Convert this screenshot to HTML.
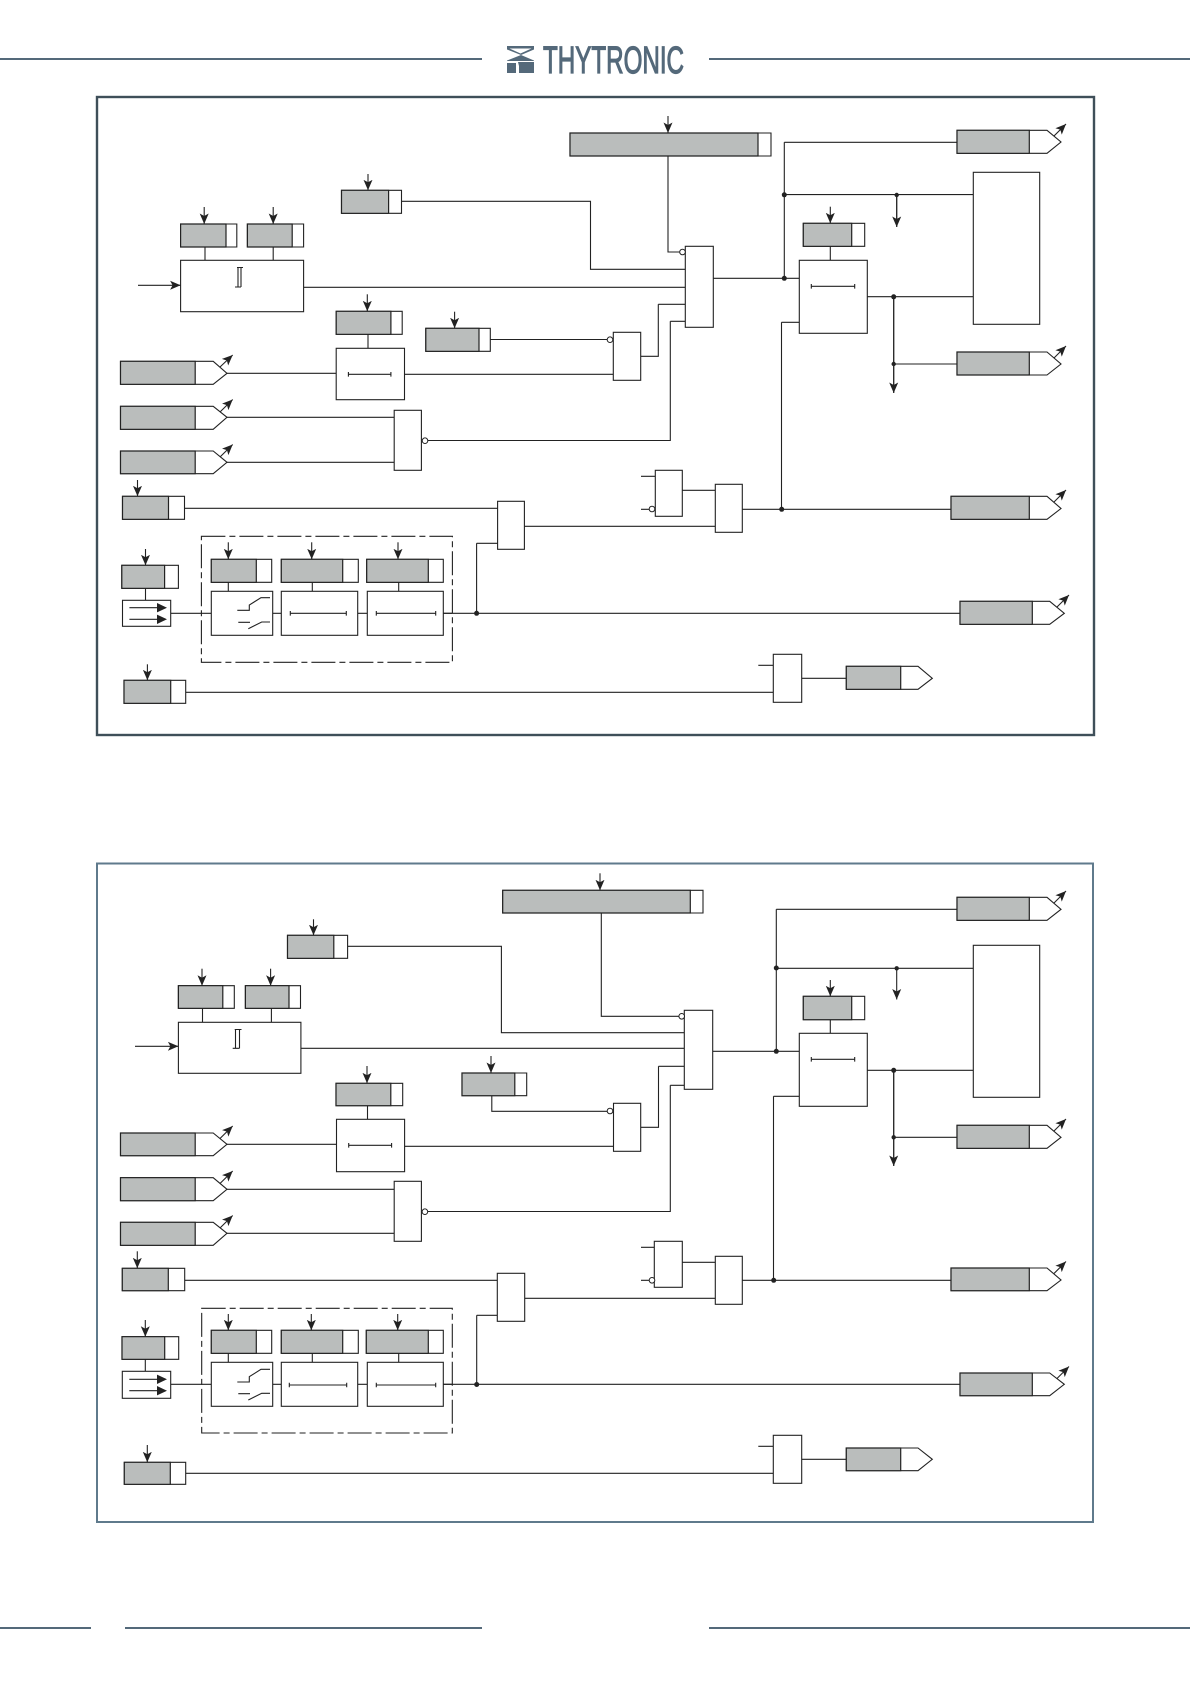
<!DOCTYPE html>
<html><head><meta charset="utf-8"><style>
html,body{margin:0;padding:0;background:#fff}
svg{display:block}
.l{fill:none;stroke:#222;stroke-width:1.1}
.s{fill:#fff;stroke:#222;stroke-width:1.1}
.g{fill:#babdbc;stroke:#222;stroke-width:1.2}
.d{fill:#222;stroke:none}
.c{fill:#fff;stroke:#222;stroke-width:1}
.a{fill:none;stroke:#222;stroke-width:1.1;marker-end:url(#m)}
.h{fill:#54697a;stroke:none}
</style></head><body>
<svg width="1190" height="1684" viewBox="0 0 1190 1684" xmlns="http://www.w3.org/2000/svg">
<defs><marker id="m" markerUnits="userSpaceOnUse" markerWidth="12" markerHeight="10" refX="10.5" refY="5" orient="auto"><path d="M0 0.5L10.5 5L0 9.5L2.5 5Z" fill="#222"/></marker></defs>
<rect width="1190" height="1684" fill="#fff"/>
<!-- header / footer -->
<rect class="h" x="0" y="58" width="482" height="2"/><rect class="h" x="709" y="58" width="481" height="2"/>
<path class="h" d="M507 46H534V49.5L521 55L534 60.5V61H507V60.5L521 55L507 49.5ZM507 63H516V73H507ZM518 62L534 62V73H519V66Z" style="fill-rule:evenodd"/>
<rect x="509" y="48.5" width="23" height="0" fill="none"/>
<path d="M509.5 48.5H531.5L520.5 53.5Z" fill="#fff"/>
<text x="543" y="73" font-family="Liberation Sans, sans-serif" font-size="38" fill="#54697a" stroke="#54697a" stroke-width="1.2" textLength="141" lengthAdjust="spacingAndGlyphs">THYTRONIC</text>
<rect class="h" x="0" y="1627" width="91" height="2"/><rect class="h" x="125" y="1627" width="357" height="2"/><rect class="h" x="709" y="1627" width="481" height="2"/>

<!-- DIAGRAM 1 -->
<rect x="97" y="97" width="997" height="638" fill="none" stroke="#3f4f59" stroke-width="2.4"/>
<!-- wires -->
<path class="l" d="M668 156V252H680M784.3 142.3V278.3M784.3 142.3H957M713.3 278.3H799.3M784.3 194.6H973.3M867.3 296.7H973.3M893.7 296.7V392.7M893.7 364H957M896.7 195V226.7"/>
<path class="a" d="M896.7 195V227"/><path class="a" d="M893.7 297V393"/>
<path class="l" d="M781.5 322.3H799.3M781.5 322.3V509.3M742.3 509.3H951"/>
<path class="l" d="M401.5 201.3H590.5V269.3H685.3M303.6 287.3H685.3M658.3 304.3H685.3M658.3 304.3V356.3H640.7M670.3 321.3H685.3M670.3 321.3V440.5H428"/>
<path class="l" d="M490.3 339.5H607M404.5 374.3H613.3M227 373.3H336.2M227 417.3H394.2M227 462.3H394.2M184.5 508.3H497.6M524.4 526.3H715.3M476.6 543.3H497.6M476.6 543.3V613.3M170.7 613.3H211.3M272.7 613.3H281.3M357.7 613.3H367.3M443.3 613.3H960M185.7 692.3H773.3M801.7 678.3H846.3M758.3 665.3H773.3M641 476.3H655.3M641 509.3H649M682.3 490.3H715.3"/>
<path class="l" d="M830.3 246.3V260.3M205 247V260.3M273.2 247V260.3M368 334.3V348.3M145.5 588.3V600.3M228.3 582.3V591.3M312.3 582.3V591.3M398.7 582.3V591.3"/>
<!-- setting arrows -->
<path class="a" d="M668 116V133"/><path class="a" d="M830.3 206.7V223.3"/><path class="a" d="M368 174V190.3"/><path class="a" d="M204.2 207V224"/><path class="a" d="M273.2 207V224"/><path class="a" d="M367.3 294.3V311.3"/><path class="a" d="M454.6 311.7V328.3"/><path class="a" d="M137.5 480V496.3"/><path class="a" d="M145.5 549V565.3"/><path class="a" d="M147.4 664.3V680.3"/><path class="a" d="M228.3 542.3V559.3"/><path class="a" d="M311.7 542.3V559.3"/><path class="a" d="M398 542.3V559.3"/><path class="a" d="M138 285.3H180.6"/>
<!-- settings -->
<path class="s" d="M570 133H771V156H570Z"/><path class="g" d="M570 133H758V156H570Z"/>
<path class="s" d="M341.5 190.3H401.5V213.3H341.5Z"/><path class="g" d="M341.5 190.3H388.6V213.3H341.5Z"/>
<path class="s" d="M180.6 224H236.8V247H180.6Z"/><path class="g" d="M180.6 224H226V247H180.6Z"/>
<path class="s" d="M247.4 224H303.6V247H247.4Z"/><path class="g" d="M247.4 224H292.2V247H247.4Z"/>
<path class="s" d="M336.2 311.3H402.2V334.3H336.2Z"/><path class="g" d="M336.2 311.3H390.9V334.3H336.2Z"/>
<path class="s" d="M425.8 328.3H490.3V351.3H425.8Z"/><path class="g" d="M425.8 328.3H479V351.3H425.8Z"/>
<path class="s" d="M803.3 223.3H864.7V246.3H803.3Z"/><path class="g" d="M803.3 223.3H851.7V246.3H803.3Z"/>
<path class="s" d="M122.5 496.3H184.5V519.3H122.5Z"/><path class="g" d="M122.5 496.3H168.5V519.3H122.5Z"/>
<path class="s" d="M121.8 565.3H178.4V588.3H121.8Z"/><path class="g" d="M121.8 565.3H164.6V588.3H121.8Z"/>
<path class="s" d="M124 680.3H185.7V703.3H124Z"/><path class="g" d="M124 680.3H170.7V703.3H124Z"/>
<path class="s" d="M211.3 559.3H271.7V582.3H211.3Z"/><path class="g" d="M211.3 559.3H256.3V582.3H211.3Z"/>
<path class="s" d="M281.3 559.3H358.3V582.3H281.3Z"/><path class="g" d="M281.3 559.3H342.7V582.3H281.3Z"/>
<path class="s" d="M366.7 559.3H443.3V582.3H366.7Z"/><path class="g" d="M366.7 559.3H428.3V582.3H366.7Z"/>
<!-- tags -->
<path class="s" d="M957 130.3H1047L1061 142L1047 153.3H957Z"/><path class="g" d="M957 130.3H1029.3V153.3H957Z"/><path class="a" d="M1054 136L1066 124"/>
<path class="s" d="M957 352H1047L1061 364L1047 375H957Z"/><path class="g" d="M957 352H1029.3V375H957Z"/><path class="a" d="M1054 358L1066 346"/>
<path class="s" d="M951 496.3H1047L1061 508.5L1047 519.3H951Z"/><path class="g" d="M951 496.3H1029.3V519.3H951Z"/><path class="a" d="M1054 502L1066 490"/>
<path class="s" d="M960 601.3H1049.7L1064.3 613.3L1049.7 624.3H960Z"/><path class="g" d="M960 601.3H1032.3V624.3H960Z"/><path class="a" d="M1057 607L1069 595"/>
<path class="s" d="M846.3 666.3H918L932.3 678.3L918 689.3H846.3Z"/><path class="g" d="M846.3 666.3H900.7V689.3H846.3Z"/>
<path class="s" d="M120.5 361.3H213.2L227 373.3L213.2 384.3H120.5Z"/><path class="g" d="M120.5 361.3H195.2V384.3H120.5Z"/><path class="a" d="M220 367L232.7 355"/>
<path class="s" d="M120.5 406.3H213.2L227 417.3L213.2 429.3H120.5Z"/><path class="g" d="M120.5 406.3H195.2V429.3H120.5Z"/><path class="a" d="M220 412L232.7 399.5"/>
<path class="s" d="M120.5 451H213.2L227 462.3L213.2 473.7H120.5Z"/><path class="g" d="M120.5 451H195.2V473.7H120.5Z"/><path class="a" d="M220 457L232.7 444.5"/>
<!-- blocks -->
<rect class="s" x="685.3" y="246.3" width="28" height="81"/>
<rect class="s" x="973.3" y="172.3" width="66.4" height="152"/>
<rect class="s" x="799.3" y="260.3" width="68" height="73"/>
<rect class="s" x="180.6" y="260.3" width="123" height="51.4"/>
<rect class="s" x="613.3" y="332.3" width="27.4" height="48"/>
<rect class="s" x="336.2" y="348.3" width="68.3" height="51.4"/>
<rect class="s" x="394.2" y="410.3" width="27.2" height="60"/>
<rect class="s" x="497.6" y="501.3" width="26.8" height="48"/>
<rect class="s" x="655.3" y="470.3" width="27" height="46"/>
<rect class="s" x="715.3" y="484.3" width="27" height="48"/>
<rect class="s" x="773.3" y="654.3" width="28.4" height="48"/>
<rect class="s" x="122.5" y="600.3" width="48.2" height="26"/>
<rect class="s" x="211.3" y="591.3" width="61.4" height="44"/>
<rect class="s" x="281.3" y="591.3" width="76.4" height="44"/>
<rect class="s" x="367.3" y="591.3" width="76" height="44"/>
<rect x="201.4" y="536.3" width="251" height="126" fill="none" stroke="#222" stroke-width="1.1" stroke-dasharray="24 4 6 4"/>
<path class="l" d="M443.3 613.3H452"/>
<!-- symbols -->
<path class="l" d="M811.3 286.3H854.7M811.3 284V288.6M854.7 284V288.6M348.4 374.3H390.9M348.4 372V376.6M390.9 372V376.6M290.3 613.3H346.3M290.3 611V615.6M346.3 611V615.6M376.3 613.3H435.7M376.3 611V615.6M435.7 611V615.6"/>
<path class="l" d="M237.3 610.3H249.3V605L261 597.7H270M238.3 622.3H250M248.3 628.7L261.7 622H270"/>
<path class="l" d="M237 267.5H243M238 267.5V287M241 267.5V287M235 287H241"/>
<path d="M129.4 607.7H158M129.4 619.3H158" class="l"/><path class="d" d="M157 603L167 607.7L157 612.4ZM157 614.6L167 619.3L157 624Z"/>
<!-- bubbles and dots -->
<circle class="c" cx="682.5" cy="252" r="2.8"/><circle class="c" cx="610" cy="339.7" r="2.8"/><circle class="c" cx="425" cy="440.7" r="2.8"/><circle class="c" cx="652" cy="509" r="2.8"/>
<circle class="d" cx="784.3" cy="278.3" r="2.5"/><circle class="d" cx="784.3" cy="194.8" r="2.5"/><circle class="d" cx="896.7" cy="195" r="2.2"/><circle class="d" cx="893.7" cy="296.8" r="2.5"/><circle class="d" cx="893.7" cy="364" r="2.2"/><circle class="d" cx="781.7" cy="509.3" r="2.5"/><circle class="d" cx="476.6" cy="613.3" r="2.5"/>

<!-- DIAGRAM 2 -->
<rect x="97" y="863.5" width="996" height="658.5" fill="none" stroke="#5f7a8c" stroke-width="2"/>
<path class="l" d="M601.3 913V1016.3H679M776.3 909.3V1051.3M776.3 909.3H957M712.7 1051.3H799.3M776.3 968.3H973.3M867.3 1070.3H973.3M893.7 1070.3V1165.7M893.7 1137.3H957"/>
<path class="a" d="M896.7 968.3V999.5"/><path class="a" d="M893.7 1070.3V1166"/>
<path class="l" d="M773.5 1096.3H799.3M773.5 1096.3V1280.3M742.3 1280.3H951"/>
<path class="l" d="M347.6 946.3H501.4V1032.7H684.3M300.9 1048.3H684.3M658.5 1066.3H684.3M658.5 1066.3V1127.3H640.7M670.3 1085.3H684.3M670.3 1085.3V1211.5H428"/>
<path class="l" d="M491.8 1095.7V1111.3H607M404.6 1146.3H613.5M227 1144.3H336.5M227 1189.3H394.2M227 1233.3H394.2M184.7 1280.3H497.3M524.7 1298.3H715.3M476.7 1315.3H497.3M476.7 1315.3V1384.3M170.7 1384.3H211.3M272.7 1384.3H281.3M357.7 1384.3H367.3M443.3 1384.3H960M185.7 1473.3H773.3M801.7 1459.3H846.3M758.3 1446.3H773.3M641 1247.3H654.3M641 1280.3H649M682.3 1262.3H715.3"/>
<path class="l" d="M830.3 1019.7V1033.3M202.5 1008.3V1022.3M271.4 1008.3V1022.3M367.5 1105.7V1119.3M145.3 1359.3V1371.3M228.3 1353.3V1362.3M312.3 1353.3V1362.3M398.7 1353.3V1362.3"/>
<path class="a" d="M600 873.3V890.3"/><path class="a" d="M830.3 980V996.3"/><path class="a" d="M313.5 919.3V935.3"/><path class="a" d="M202 968.7V985.7"/><path class="a" d="M270.6 968.7V985.7"/><path class="a" d="M367 1066V1083.3"/><path class="a" d="M491 1056V1073"/><path class="a" d="M137.3 1251.3V1268.3"/><path class="a" d="M145.3 1320V1336.7"/><path class="a" d="M147.3 1445V1462.3"/><path class="a" d="M228.3 1314V1330.3"/><path class="a" d="M311.3 1314V1330.3"/><path class="a" d="M397.7 1314V1330.3"/><path class="a" d="M135 1046.3H178.4"/>
<path class="s" d="M502.7 890.3H703V913H502.7Z"/><path class="g" d="M502.7 890.3H690.3V913H502.7Z"/>
<path class="s" d="M287.5 935.3H347.6V958.3H287.5Z"/><path class="g" d="M287.5 935.3H333.8V958.3H287.5Z"/>
<path class="s" d="M178.4 985.7H234.3V1008.3H178.4Z"/><path class="g" d="M178.4 985.7H222.8V1008.3H178.4Z"/>
<path class="s" d="M245.4 985.7H300.5V1008.3H245.4Z"/><path class="g" d="M245.4 985.7H289V1008.3H245.4Z"/>
<path class="s" d="M336 1083.3H402.7V1105.7H336Z"/><path class="g" d="M336 1083.3H390.8V1105.7H336Z"/>
<path class="s" d="M462 1073H526.7V1095.7H462Z"/><path class="g" d="M462 1073H514.8V1095.7H462Z"/>
<path class="s" d="M803.3 996.3H864.7V1019.7H803.3Z"/><path class="g" d="M803.3 996.3H851.7V1019.7H803.3Z"/>
<path class="s" d="M122.3 1268.3H184.7V1290.7H122.3Z"/><path class="g" d="M122.3 1268.3H168.3V1290.7H122.3Z"/>
<path class="s" d="M122 1336.7H178.7V1359.3H122Z"/><path class="g" d="M122 1336.7H164.7V1359.3H122Z"/>
<path class="s" d="M124.3 1462.3H185.7V1484.3H124.3Z"/><path class="g" d="M124.3 1462.3H170.3V1484.3H124.3Z"/>
<path class="s" d="M211.3 1330.3H271.7V1353.3H211.3Z"/><path class="g" d="M211.3 1330.3H256.3V1353.3H211.3Z"/>
<path class="s" d="M281.3 1330.3H358.3V1353.3H281.3Z"/><path class="g" d="M281.3 1330.3H342.7V1353.3H281.3Z"/>
<path class="s" d="M366.3 1330.3H443.3V1353.3H366.3Z"/><path class="g" d="M366.3 1330.3H428.3V1353.3H366.3Z"/>
<path class="s" d="M957 897.3H1047L1061 909.3L1047 920.3H957Z"/><path class="g" d="M957 897.3H1029.3V920.3H957Z"/><path class="a" d="M1054 903L1066 891"/>
<path class="s" d="M957 1125.3H1047L1061 1137.3L1047 1148.3H957Z"/><path class="g" d="M957 1125.3H1029.3V1148.3H957Z"/><path class="a" d="M1054 1131L1066 1119"/>
<path class="s" d="M951 1268H1047L1061 1280L1047 1290.7H951Z"/><path class="g" d="M951 1268H1029.3V1290.7H951Z"/><path class="a" d="M1054 1273.5L1066 1261.5"/>
<path class="s" d="M960 1373H1049.7L1064.3 1384.3L1049.7 1395.7H960Z"/><path class="g" d="M960 1373H1032.3V1395.7H960Z"/><path class="a" d="M1057 1378.5L1069 1366.5"/>
<path class="s" d="M846.3 1448H918L932.3 1459.3L918 1470.7H846.3Z"/><path class="g" d="M846.3 1448H900.7V1470.7H846.3Z"/>
<path class="s" d="M120.5 1133H213.2L227 1144.3L213.2 1155.7H120.5Z"/><path class="g" d="M120.5 1133H195.2V1155.7H120.5Z"/><path class="a" d="M220 1138.5L232.7 1126"/>
<path class="s" d="M120.5 1177.7H213.2L227 1189.3L213.2 1200.7H120.5Z"/><path class="g" d="M120.5 1177.7H195.2V1200.7H120.5Z"/><path class="a" d="M220 1183.5L232.7 1171"/>
<path class="s" d="M120.5 1222.3H213.2L227 1233.3L213.2 1245.3H120.5Z"/><path class="g" d="M120.5 1222.3H195.2V1245.3H120.5Z"/><path class="a" d="M220 1228L232.7 1215.5"/>
<rect class="s" x="684.3" y="1010.3" width="28.4" height="79"/>
<rect class="s" x="973.3" y="945.3" width="66.4" height="152"/>
<rect class="s" x="799.3" y="1033.3" width="68" height="73"/>
<rect class="s" x="178.4" y="1022.3" width="122.5" height="51"/>
<rect class="s" x="613.5" y="1103.3" width="27.2" height="48"/>
<rect class="s" x="336.5" y="1119.3" width="68.1" height="52.4"/>
<rect class="s" x="394.2" y="1181.3" width="27.2" height="60"/>
<rect class="s" x="497.3" y="1273.3" width="27.4" height="48"/>
<rect class="s" x="654.3" y="1241.3" width="28" height="46"/>
<rect class="s" x="715.3" y="1256.3" width="27" height="48"/>
<rect class="s" x="773.3" y="1435.3" width="28.4" height="48"/>
<rect class="s" x="122.3" y="1371.3" width="48.4" height="27"/>
<rect class="s" x="211.3" y="1362.3" width="61.4" height="44"/>
<rect class="s" x="281.3" y="1362.3" width="76.4" height="44"/>
<rect class="s" x="367.3" y="1362.3" width="76" height="44"/>
<rect x="201.7" y="1308.3" width="250.6" height="124.7" fill="none" stroke="#222" stroke-width="1.1" stroke-dasharray="24 4 6 4"/>
<path class="l" d="M443.3 1384.3H452"/>
<path class="l" d="M811.3 1059.3H854.7M811.3 1057V1061.6M854.7 1057V1061.6M348.7 1145.3H391.6M348.7 1143V1147.6M391.6 1143V1147.6M289.3 1385H346.7M289.3 1382.7V1387.3M346.7 1382.7V1387.3M376.3 1385H435.7M376.3 1382.7V1387.3M435.7 1382.7V1387.3"/>
<path class="l" d="M237.3 1382H249.3V1376.7L261 1369.3H270M238.3 1393.7H250M248.3 1400L261.7 1393.3H270"/>
<path class="l" d="M234.7 1029.5H241.5M235.5 1029.5V1048.3M239.5 1029.5V1048.3M232.7 1048.3H239.5"/>
<path class="l" d="M129.3 1379.3H158M129.3 1390.7H158"/><path class="d" d="M157 1374.6L167 1379.3L157 1384ZM157 1386L167 1390.7L157 1395.4Z"/>
<circle class="c" cx="681.7" cy="1016.3" r="2.8"/><circle class="c" cx="610" cy="1111" r="2.8"/><circle class="c" cx="424.9" cy="1211.7" r="2.8"/><circle class="c" cx="652" cy="1280.3" r="2.8"/>
<circle class="d" cx="776.3" cy="1051.3" r="2.5"/><circle class="d" cx="776.3" cy="968" r="2.5"/><circle class="d" cx="896.7" cy="968.3" r="2.2"/><circle class="d" cx="893.7" cy="1070.3" r="2.5"/><circle class="d" cx="893.7" cy="1137.3" r="2.2"/><circle class="d" cx="773.7" cy="1280.3" r="2.5"/><circle class="d" cx="476.7" cy="1384.5" r="2.5"/>
</svg>
</body></html>
